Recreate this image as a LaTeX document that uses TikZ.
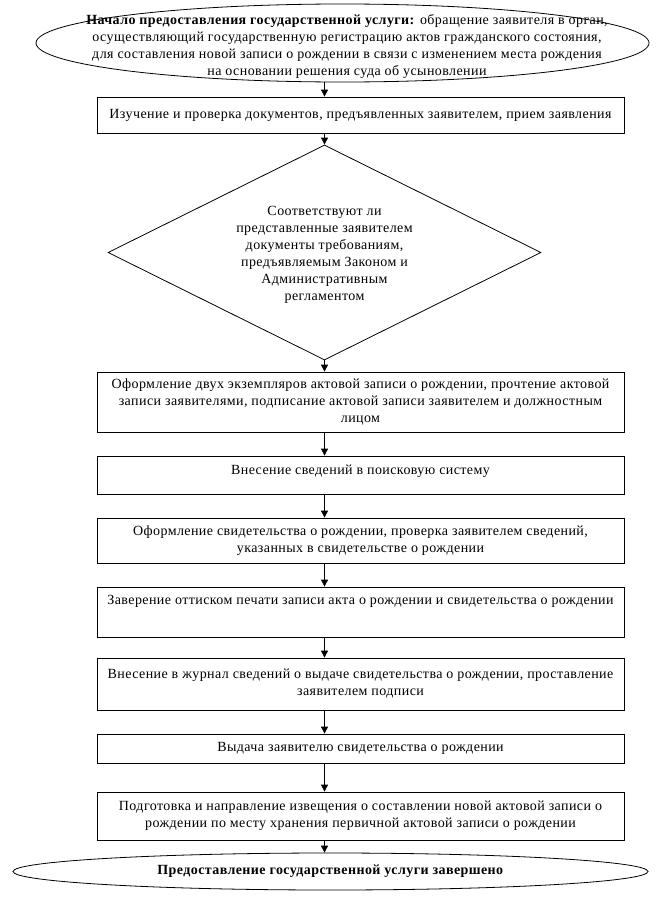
\documentclass[tikz,border=0pt]{standalone}
\usepackage{fontspec}
\setmainfont[LetterSpace=3]{Liberation Serif}
\usetikzlibrary{shapes.geometric,arrows.meta}
\begin{document}
\begin{tikzpicture}[x=1pt,y=-1pt,
  font=\fontsize{14}{17}\selectfont,
  line width=0.8pt,
  box/.style={draw, rectangle, minimum width=527pt, align=center, inner sep=0pt},
  term/.style={draw, ellipse, inner sep=0pt},
  dia/.style={draw, diamond, inner sep=0pt, minimum width=433pt, minimum height=215pt},
  txt/.style={align=center, inner sep=0pt},
  arr/.style={-{Triangle[length=7pt,width=7pt]}}]
\useasboundingbox (0,0) rectangle (661,902);
% start
\node[term, minimum width=613pt, minimum height=78pt] (start) at (342.5,43) {};
\node[txt] (starttxt) at (347,46) {\textbf{Начало предоставления государственной услуги:} обращение заявителя в орган,\\
осуществляющий государственную регистрацию актов гражданского состояния,\\
для составления новой записи о рождении в связи с изменением места рождения\\
на основании решения суда об усыновлении};
\node[box, minimum height=36pt] (b1) at (360.5,115) {Изучение и проверка документов, предъявленных заявителем, прием заявления};
\node[dia] (d) at (324.5,252.5) {};
\node[txt] (dtxt) at (324.5,254.5) {Соответствуют ли\\представленные заявителем\\документы требованиям,\\предъявляемым Законом и\\Административным\\регламентом};
\node[box, minimum height=60pt] (b2) at (360.5,402) {Оформление двух экземпляров актовой записи о рождении, прочтение актовой\\записи заявителями, подписание актовой записи заявителем и должностным\\лицом};
\node[box, minimum height=38pt] (b3) at (360.5,475) {Внесение сведений в поисковую систему\\[-6pt]\mbox{}};
\node[box, minimum height=45pt] (b4) at (360.5,540.5) {Оформление свидетельства о рождении, проверка заявителем сведений,\\указанных в свидетельстве о рождении};
\node[box, minimum height=50pt] (b5) at (360.5,612) {Заверение оттиском печати записи акта о рождении и свидетельства о рождении\\[7pt]\mbox{}};
\node[box, minimum height=52pt] (b6) at (360.5,684) {Внесение в журнал сведений о выдаче свидетельства о рождении, проставление\\заявителем подписи};
\node[box, minimum height=29pt] (b7) at (360.5,748.5) {Выдача заявителю свидетельства о рождении};
\node[box, minimum height=48pt] (b8) at (360.5,816) {Подготовка и направление извещения о составлении новой актовой записи о\\рождении по месту хранения первичной актовой записи о рождении};
\node[term, minimum width=635pt, minimum height=37pt] (end) at (330.5,871.5) {};
\node[txt] (endtxt) at (330.5,871.5) {\textbf{Предоставление государственной услуги завершено}};
% arrows
\draw[arr] (d.north |- start.south) -- (d.north |- b1.north);
\draw[arr] (d.north |- b1.south) -- (d.north);
\draw[arr] (d.south) -- (d.south |- b2.north);
\draw[arr] (d.south |- b2.south) -- (d.south |- b3.north);
\draw[arr] (d.south |- b3.south) -- (d.south |- b4.north);
\draw[arr] (d.south |- b4.south) -- (d.south |- b5.north);
\draw[arr] (d.south |- b5.south) -- (d.south |- b6.north);
\draw[arr] (d.south |- b6.south) -- (d.south |- b7.north);
\draw[arr] (d.south |- b7.south) -- (d.south |- b8.north);
\draw[arr] (d.south |- b8.south) -- (d.south |- end.north);
\end{tikzpicture}
\end{document}
